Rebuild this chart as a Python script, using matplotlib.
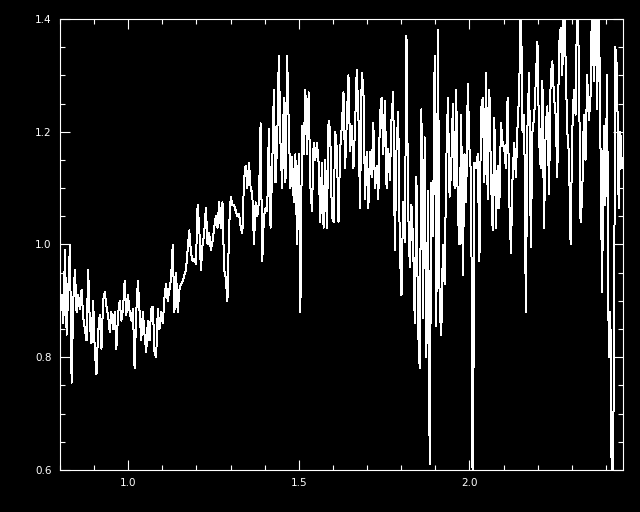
import numpy as np
import matplotlib
matplotlib.use("Agg")
import matplotlib.pyplot as plt
from matplotlib.ticker import MultipleLocator

# wavelength range (micron) and flux values
wave_start = 0.80
wave_end = 2.447

flux_a = [0.87, 0.91, 0.86, 0.99, 0.84, 0.92, 1.00, 0.755, 0.90, 0.955, 0.88, 0.91, 0.885, 0.92,
          0.87, 0.85, 0.83, 0.955, 0.86, 0.825, 0.90, 0.81, 0.77, 0.845, 0.875, 0.815, 0.90]
flux_b = [0.915, 0.89, 0.875, 0.845, 0.88, 0.85, 0.88, 0.815, 0.875, 0.90, 0.865, 0.885, 0.935, 0.875,
          0.91, 0.88, 0.865, 0.885, 0.78, 0.88, 0.935, 0.88, 0.83, 0.88, 0.84, 0.81, 0.865, 0.83, 0.885]
flux_c = [0.89, 0.81, 0.80, 0.885, 0.85, 0.88, 0.86, 0.905, 0.93, 0.90, 0.92, 0.94, 1.00, 0.88,
          0.95, 0.88, 0.92, 0.93, 0.935, 0.945, 0.955, 0.99, 1.025, 0.985, 0.97, 0.975, 0.965, 1.07, 1.03]
flux_d = [0.955, 1.00, 1.02, 1.065, 1.00, 1.02, 0.99, 1.005, 1.03, 1.05, 1.03, 1.075, 1.03, 1.075,
          0.955, 0.94, 0.90, 1.03, 1.085, 1.07, 1.07, 1.06, 1.05, 1.055, 1.03, 1.02, 1.115, 1.14, 1.10]
flux_e = [1.145, 1.10, 1.09, 1.00, 1.075, 1.05, 1.075, 1.215, 0.97, 1.05, 1.065, 1.06, 1.205, 1.03,
          1.135, 1.275, 1.11, 1.18, 1.335, 1.18, 1.10, 1.26, 1.11, 1.335, 1.21, 1.10, 1.155, 1.075, 1.16]
flux_f = [1.00, 1.16, 0.88, 1.21, 1.16, 1.275, 1.16, 1.27, 1.105, 1.06, 1.18, 1.15, 1.18, 1.145,
          1.04, 1.145, 1.03, 1.15, 1.03, 1.22, 1.20, 1.05, 1.04, 1.20, 1.17, 1.04, 1.17, 1.21, 1.27]
flux_g = [1.135, 1.215, 1.30, 1.165, 1.21, 1.135, 1.21, 1.31, 1.23, 1.065, 1.305, 1.28, 1.08, 1.165,
          1.065, 1.165, 1.12, 1.215, 1.10, 1.14, 1.08, 1.23, 1.26, 1.16, 1.255, 1.10, 1.17, 1.115, 1.225]
flux_h = [1.27, 0.99, 1.17, 1.235, 0.99, 0.91, 1.075, 1.005, 1.37, 1.065, 0.96, 1.07, 1.005, 0.86,
          1.12, 0.85, 0.78, 1.24, 0.87, 1.19, 0.80, 1.095, 0.61, 1.11, 1.015, 1.335, 0.855, 1.38, 0.885]
flux_i = [0.84, 1.00, 0.93, 1.145, 1.26, 1.085, 1.135, 1.25, 1.10, 1.275, 1.055, 1.00, 1.23, 0.945,
          1.16, 1.075, 1.285, 1.17, 1.12, 0.50, 1.145, 1.135, 1.16, 0.97, 1.24, 1.26, 1.11, 1.305, 1.08]
flux_j = [1.275, 1.115, 1.025, 1.225, 1.03, 1.14, 1.065, 1.215, 1.18, 1.17, 1.135, 1.26, 1.08, 0.985,
          1.12, 1.18, 1.12, 1.21, 1.27, 1.45, 1.20, 1.23, 0.88, 1.21, 1.305, 0.995, 1.20, 1.225, 1.29]
flux_k = [1.36, 1.185, 1.135, 1.29, 1.03, 1.21, 1.245, 1.09, 1.30, 1.325, 1.26, 1.23, 1.12, 1.35,
          1.385, 1.30, 1.45, 1.325, 1.20, 1.16, 1.00, 1.20, 1.275, 1.23, 1.45, 1.325, 1.04, 1.085, 1.23]
flux_l = [1.15, 1.30, 1.22, 1.26, 1.45, 1.29, 1.45, 1.24, 1.45, 1.18, 0.915, 1.21, 1.07, 1.30,
          0.80, 0.88, 0.50, 0.73, 1.35, 1.31, 1.065, 1.20, 1.135]

flux = np.array(flux_a + flux_b + flux_c + flux_d + flux_e + flux_f +
                flux_g + flux_h + flux_i + flux_j + flux_k + flux_l)
wave = np.linspace(wave_start, wave_end, len(flux))

fig = plt.figure(figsize=(6.4, 5.12), dpi=100, facecolor='black')
ax = fig.add_axes([60 / 640, 42 / 512, 563 / 640, 451 / 512])
ax.set_facecolor('black')

ax.plot(wave, flux, color='white', lw=0.72, antialiased=False)

ax.set_xlim(0.80, 2.45)
ax.set_ylim(0.6, 1.4)

ax.xaxis.set_major_locator(MultipleLocator(0.5))
ax.xaxis.set_minor_locator(MultipleLocator(0.1))
ax.yaxis.set_major_locator(MultipleLocator(0.2))
ax.yaxis.set_minor_locator(MultipleLocator(0.05))
ax.xaxis.set_major_formatter(plt.FormatStrFormatter('%.1f'))
ax.yaxis.set_major_formatter(plt.FormatStrFormatter('%.1f'))

for s in ax.spines.values():
    s.set_color('white')
    s.set_linewidth(0.8)

ax.tick_params(which='both', direction='in', top=True, right=True, colors='white',
               labelsize=7.5, width=0.8)
ax.tick_params(which='major', length=7.2, pad=6)
ax.tick_params(which='minor', length=3.6)

fig.savefig('out.png', dpi=100, facecolor='black')
